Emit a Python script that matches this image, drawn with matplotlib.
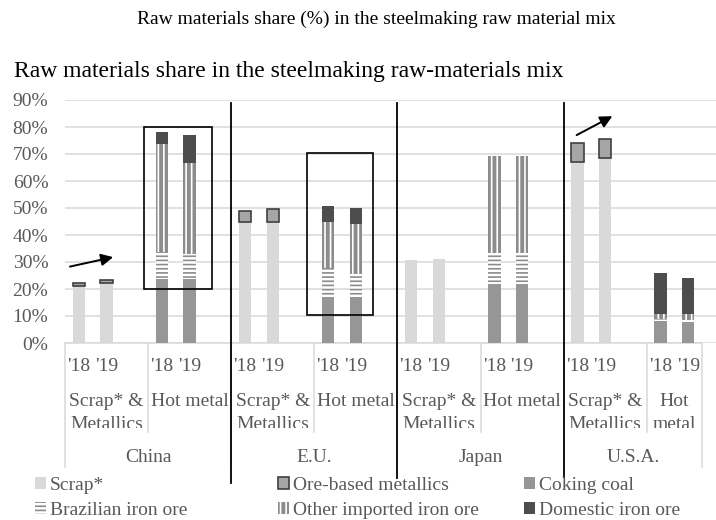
import matplotlib
matplotlib.use("Agg")
import matplotlib.pyplot as plt
from matplotlib.patches import Patch, Rectangle
from matplotlib.transforms import Bbox

plt.rcParams['font.family'] = ['Liberation Serif', 'DejaVu Serif']
plt.rcParams['hatch.linewidth'] = 1.2

# Shares (%) per country, one value per year ('18, '19)
countries = ["China", "E.U.", "Japan", "U.S.A."]
years = ["'18", "'19"]
group_names = ["Scrap* &\nMetallics", "Hot metal"]

scrap = [[21.1, 22.2], [45.0, 45.0], [30.6, 31.1], [67.2, 68.4]]
ore_metallics = [[1.2, 1.1], [3.9, 4.5], [0.0, 0.0], [6.8, 7.1]]

coking_coal = [[23.6, 23.6], [16.9, 17.0], [21.9, 22.0], [8.3, 7.7]]
brazilian_ore = [[10.2, 9.2], [11.0, 8.4], [11.3, 11.2], [0.5, 1.0]]
other_imported_ore = [[39.8, 33.7], [17.0, 18.6], [36.1, 36.1], [1.9, 2.0]]
domestic_ore = [[4.7, 10.5], [5.8, 6.1], [0.0, 0.0], [15.3, 13.3]]

yticks = list(range(0, 91, 10))

TEXT_GREY = "#595959"
C_SCRAP = "#d9d9d9"
C_METALLICS = "#a6a6a6"
C_COAL = "#969696"
C_STRIPE = "#8c8c8c"
C_DOMESTIC = "#4d4d4d"

fig = plt.figure(figsize=(7.16, 5.2), dpi=100)
# plot area: 0% at y=343px, 90% at y=100px, left edge x=65px
ax = fig.add_axes([65 / 716, (520 - 343) / 520, (716 - 65) / 716, 243 / 520])

slot_px = 27.7
ax.set_xlim(0, (716 - 65) / slot_px)
ax.set_ylim(0, 90)

bar_w = 0.45


def slot_x(group, yr):
    return 3 * group + 0.5 + yr


for c in range(len(countries)):
    xs_scrap = [slot_x(2 * c, i) for i in range(2)]
    xs_hot = [slot_x(2 * c + 1, i) for i in range(2)]

    # scrap & metallics stack
    ax.bar(xs_scrap, scrap[c], bar_w, color=C_SCRAP, linewidth=0, zorder=3)
    ax.bar(xs_scrap, ore_metallics[c], bar_w, bottom=scrap[c],
           facecolor=C_METALLICS, edgecolor="#404040",
           linewidth=[1.2 if v > 0 else 0 for v in ore_metallics[c]], zorder=3)

    # hot metal stack
    b = [0.0, 0.0]
    ax.bar(xs_hot, coking_coal[c], bar_w, color=C_COAL, linewidth=0, zorder=3)
    b = [b[i] + coking_coal[c][i] for i in range(2)]
    ax.bar(xs_hot, brazilian_ore[c], bar_w, bottom=b, facecolor="white",
           edgecolor=C_STRIPE, linewidth=0, hatch="----", zorder=3)
    b = [b[i] + brazilian_ore[c][i] for i in range(2)]
    ax.bar(xs_hot, other_imported_ore[c], bar_w, bottom=b, facecolor=C_STRIPE,
           edgecolor="white", linewidth=0, hatch="|||", zorder=3)
    b = [b[i] + other_imported_ore[c][i] for i in range(2)]
    ax.bar(xs_hot, domestic_ore[c], bar_w, bottom=b, color=C_DOMESTIC,
           linewidth=0, zorder=3)

ax.set_yticks(yticks)
ax.set_yticklabels([f"{v}%" for v in yticks])
ax.tick_params(axis="y", length=0, pad=12, labelsize=14, labelcolor=TEXT_GREY)
ax.tick_params(axis="x", bottom=False, labelbottom=False)
ax.yaxis.grid(True, color="#d9d9d9", linewidth=1.1, zorder=0)
ax.set_axisbelow(True)
for s in ax.spines.values():
    s.set_visible(False)

# multi-level category axis
xt = ax.get_xaxis_transform()
n_slots = 23
ax.plot([0, n_slots], [0, 0], transform=xt, color="#d9d9d9", lw=1.1,
        clip_on=False, zorder=1)
for x in [3, 9, 15, 21]:
    ax.plot([x, x], [0, -0.366], transform=xt, color="#d9d9d9", lw=1.1,
            clip_on=False)
for x in [0, 6, 12, 18, n_slots]:
    ax.plot([x, x], [0, -0.51], transform=xt, color="#d9d9d9", lw=1.1,
            clip_on=False)

# group labels are cut at the bottom of their row
row_clip = Bbox.from_extents(0, 520 - 428, 716, 520)
for g in range(8):
    for i, yr in enumerate(years):
        ax.text(slot_x(g, i), -0.097, yr, transform=xt, ha="center",
                va="center", fontsize=14, color=TEXT_GREY)
    lo = 3 * g
    hi = min(3 * g + 3, n_slots)
    name = group_names[g % 2]
    if g == 7:
        name = "Hot\nmetal"
    t = ax.text((lo + hi) / 2, -0.205, name, transform=xt, ha="center",
                va="top", fontsize=14, color=TEXT_GREY, linespacing=1.45)
    t.set_clip_box(row_clip)
    t.set_clip_on(True)

for c, name in enumerate(countries):
    lo = 6 * c
    hi = min(6 * c + 6, n_slots)
    ax.text((lo + hi) / 2, -0.472, name, transform=xt, ha="center",
            va="center", fontsize=14, color=TEXT_GREY)

# country dividers
for x, y_end in [(6, -0.576), (12, -0.556), (18, -0.551)]:
    ax.plot([x, x], [0.988, y_end], transform=xt, color="black", lw=1.3,
            clip_on=False, zorder=5)

# highlight boxes around hot metal bars
ax.add_patch(Rectangle((2.85, 20), 5.31 - 2.85, 60, fill=False,
                       edgecolor="black", linewidth=1.2, zorder=4))
ax.add_patch(Rectangle((8.73, 10.4), 11.13 - 8.73, 60.1, fill=False,
                       edgecolor="black", linewidth=1.2, zorder=4))

# trend arrows
arrow = dict(arrowstyle="-|>", color="black", lw=1.4, mutation_scale=18,
             shrinkA=0, shrinkB=0)
ax.annotate("", xy=(1.74, 31.8), xytext=(0.18, 28.3), arrowprops=arrow)
ax.annotate("", xy=(19.76, 84.0), xytext=(18.47, 77.0), arrowprops=arrow)

# titles
fig.text(376 / 716, 1 - 19 / 520,
         "Raw materials share (%) in the steelmaking raw material mix",
         ha="center", va="center", fontsize=14, color="black")
fig.text(14 / 716, 1 - 72 / 520,
         "Raw materials share in the steelmaking raw-materials mix",
         ha="left", va="center", fontsize=17, color="black")

# legend, three columns
handles = [
    Patch(facecolor=C_SCRAP, linewidth=0, label="Scrap*"),
    Patch(facecolor="white", edgecolor=C_STRIPE, linewidth=0, hatch="----",
          label="Brazilian iron ore"),
    Patch(facecolor=C_METALLICS, edgecolor="#404040", linewidth=1.2,
          label="Ore-based metallics"),
    Patch(facecolor=C_STRIPE, edgecolor="white", linewidth=0, hatch="|||",
          label="Other imported iron ore"),
    Patch(facecolor=C_COAL, linewidth=0, label="Coking coal"),
    Patch(facecolor=C_DOMESTIC, linewidth=0, label="Domestic iron ore"),
]
col_x = [35, 278, 524]
for k in range(3):
    leg = fig.legend(handles=handles[2 * k:2 * k + 2], loc="upper left",
                     bbox_to_anchor=(col_x[k] / 716, 1 - 477 / 520),
                     frameon=False, fontsize=14, handlelength=0.55,
                     handleheight=0.55, handletextpad=0.2, labelspacing=0.4,
                     borderpad=0, borderaxespad=0)
    for txt in leg.get_texts():
        txt.set_color(TEXT_GREY)

fig.savefig("out.png", dpi=100)
